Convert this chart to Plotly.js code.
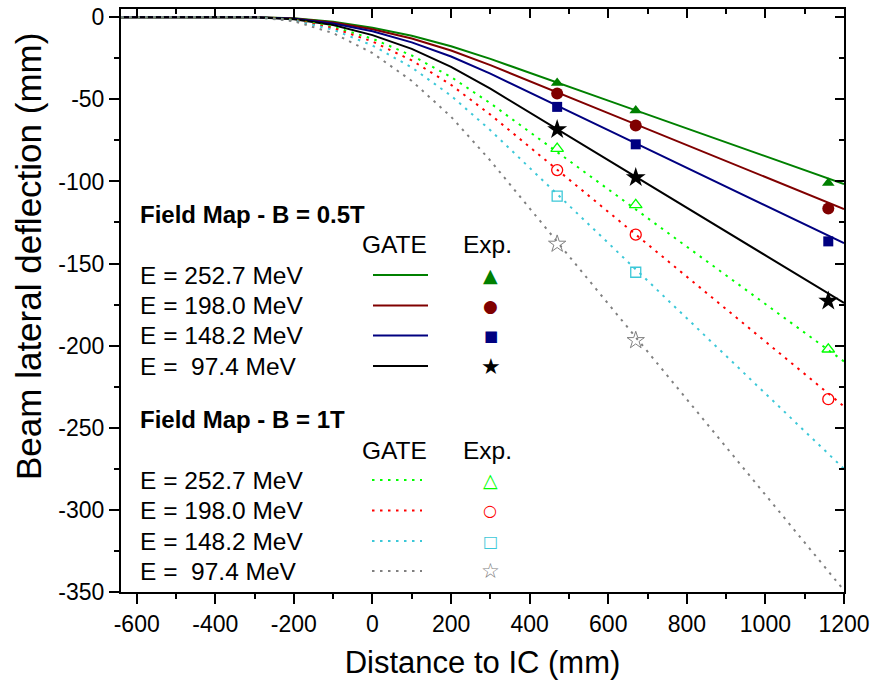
<!DOCTYPE html>
<html><head><meta charset="utf-8">
<script src="https://cdn.plot.ly/plotly-3.0.1.min.js"></script>
<style>html,body{margin:0;padding:0;background:#fff}#chart{width:884px;height:683px}</style>
</head><body><div id="chart"></div>
<script>
// ---- data ----
const xSim = [-640, -300, -200, -100, 0, 100, 200, 300, 600, 900, 1200];
const gate05_2527 = [0, 0, -0.7, -2.8, -6.4, -11.3, -17.7, -25.4, -50.8, -76.2, -101.6];
const gate05_1980 = [0, 0, -0.8, -3.2, -7.3, -13.0, -20.3, -29.2, -58.4, -87.6, -116.8];
const gate05_1482 = [0, 0, -1.0, -3.8, -8.6, -15.3, -23.9, -34.4, -68.8, -103.2, -137.6];
const gate05_974  = [0, 0, -1.2, -4.8, -10.9, -19.3, -30.2, -43.5, -87.0, -130.5, -174.0];
const gate1_2527  = [0, 0, -1.5, -5.8, -13.1, -23.3, -36.4, -52.4, -104.8, -157.2, -209.6];
const gate1_1980  = [0, 0, -1.6, -6.6, -14.8, -26.3, -41.2, -59.3, -118.5, -177.8, -237.0];
const gate1_1482  = [0, 0, -1.9, -7.6, -17.2, -30.6, -47.8, -68.8, -137.5, -206.3, -275.0];
const gate1_974   = [0, 0, -2.4, -9.7, -21.8, -38.8, -60.6, -87.3, -174.5, -261.8, -349.0];

const xExp = [470, 670, 1160];
const exp05_2527 = [-40.0, -56.8, -101.0];
const exp05_1980 = [-46.5, -65.9, -116.5];
const exp05_1482 = [-54.6, -77.4, -136.5];
const exp05_974  = [-68.4, -97.6, -172.8];
const exp1_2527  = [-80.0, -114.3, -202.2];
const exp1_1980  = [-93.1, -132.4, -232.6];
const xExp1_low  = [470, 670];
const exp1_1482  = [-108.9, -155.3];
const exp1_974   = [-138.1, -196.8];

const xTickVals = [-600, -400, -200, 0, 200, 400, 600, 800, 1000, 1200];
const xTickText = ["-600", "-400", "-200", "0", "200", "400", "600", "800", "1000", "1200"];
const yTickVals = [0, -50, -100, -150, -200, -250, -300, -350];
const yTickText = ["0", "-50", "-100", "-150", "-200", "-250", "-300", "-350"];

const energies = ["E = 252.7 MeV", "E = 198.0 MeV", "E = 148.2 MeV", "E =  97.4 MeV"];

// ---- styles ----
const FONT = "Liberation Sans, Arial, sans-serif";
const col05 = ["#008000", "#800000", "#000080", "#000000"];
const col1 = ["#00ff00", "#ff0000", "#3cc8d8", "#808080"];
const dotDash = "2.5px,5.5px";

const gate05 = [gate05_2527, gate05_1980, gate05_1482, gate05_974];
const gate1 = [gate1_2527, gate1_1980, gate1_1482, gate1_974];
const exp05 = [exp05_2527, exp05_1980, exp05_1482, exp05_974];
const exp1 = [exp1_2527, exp1_1980, exp1_1482, exp1_974];
const exp1x = [xExp, xExp, xExp1_low, xExp1_low];
const sym05 = ["triangle-up", "circle", "square", "star"];
const sym1 = ["triangle-up-open", "circle-open", "square-open", "star-open"];
const size05 = [11, 12, 10, 15];
const size1 = [11, 11, 10, 13];

const traces = [];
for (let i = 0; i < 4; i++) {
  traces.push({x: xSim, y: gate05[i], mode: "lines", line: {color: col05[i], width: 2}, showlegend: false, hoverinfo: "skip"});
}
for (let i = 0; i < 4; i++) {
  traces.push({x: xSim, y: gate1[i], mode: "lines", line: {color: col1[i], width: 2, dash: dotDash}, showlegend: false, hoverinfo: "skip"});
}
for (let i = 0; i < 4; i++) {
  traces.push({x: xExp, y: exp05[i], mode: "markers", marker: {symbol: sym05[i], size: size05[i], color: col05[i], line: {width: 0}}, showlegend: false});
}
for (let i = 0; i < 4; i++) {
  traces.push({x: exp1x[i], y: exp1[i], mode: "markers", marker: {symbol: sym1[i], size: size1[i], color: col1[i], line: {width: i === 3 ? 1 : 1.3, color: col1[i]}}, showlegend: false});
}
// empty trace for mirrored inside ticks
traces.push({x: [], y: [], xaxis: "x2", yaxis: "y2", showlegend: false});

// ---- layout ----
const L = 121, R = 844, T = 9, B = 592;
const px = v => (v - L) / (R - L);
const py = v => (B - v) / (B - T);

const annotations = [];
const shapes = [];
function txt(text, x, y, opts) {
  annotations.push(Object.assign({text: text, xref: "paper", yref: "paper", x: px(x), y: py(y),
    xanchor: "left", yanchor: "middle", showarrow: false, font: {family: FONT, size: 24.5, color: "#000"}}, opts || {}));
}
const glyph05 = ["\u25B2", "\u25CF", "\u25A0", "\u2605"];
const glyph1 = ["\u25B3", "\u25CB", "\u25A1", "\u2606"];
const gsize05 = [19, 17, 15, 22];
const gsize1 = [19, 16, 16, 21];

function block(title, yTitle, yHead, rows, lineX0, lineX1, glyphX, colors, glyphs, gsizes, dotted) {
  txt("<b>" + title + "</b>", 138, yTitle, {font: {family: FONT, size: 24, color: "#000"}});
  txt("GATE", 394, yHead, {xanchor: "center"});
  txt("Exp.", 487, yHead, {xanchor: "center"});
  for (let i = 0; i < 4; i++) {
    txt(energies[i].replace(/  /g, " \u00a0"), 138, rows[i]);
    shapes.push({type: "line", xref: "paper", yref: "paper", x0: px(lineX0), x1: px(lineX1), y0: py(rows[i]), y1: py(rows[i]),
      line: {color: colors[i], width: 2, dash: dotted ? dotDash : "solid"}});
    txt(glyphs[i], glyphX, rows[i], {xanchor: "center", font: {family: "DejaVu Sans", size: gsizes[i], color: colors[i]}});
  }
}
block("Field Map - B = 0.5T", 214, 245, [275, 305.5, 335.5, 366], 373, 428, 491, col05, glyph05, gsize05, false);
block("Field Map - B = 1T", 419, 450, [480, 510.5, 541, 571], 372, 422, 490, col1, glyph1, gsize1, true);

// y-axis title as rotated text
annotations.push({text: "Beam lateral deflection (mm)", xref: "paper", yref: "paper", x: px(28), y: py(257),
  xanchor: "center", yanchor: "middle", textangle: -90, showarrow: false, font: {family: FONT, size: 35, color: "#000"}});

const tickFont = {family: FONT, size: 23, color: "#000"};
const layout = {
  width: 884, height: 683,
  margin: {l: L, r: 884 - R, t: T, b: 683 - B},
  paper_bgcolor: "#fff", plot_bgcolor: "#fff",
  font: {family: FONT, color: "#000"},
  showlegend: false,
  xaxis: {range: [-640, 1200], tickvals: xTickVals, ticktext: xTickText, ticks: "outside", ticklen: 10, tickwidth: 2, tickcolor: "#000",
    minor: {dtick: 100, tick0: 0, ticks: "outside", ticklen: 5, tickwidth: 2, tickcolor: "#000", showgrid: false},
    showline: true, linewidth: 2, linecolor: "#000", showgrid: false, zeroline: false, tickfont: tickFont,
    title: {text: "Distance to IC (mm)", font: {family: FONT, size: 31, color: "#000"}, standoff: 16}},
  yaxis: {range: [-350, 5], tickvals: yTickVals, ticktext: yTickText, ticks: "outside", ticklen: 10, tickwidth: 2, tickcolor: "#000",
    minor: {dtick: 25, tick0: 0, ticks: "outside", ticklen: 5, tickwidth: 2, tickcolor: "#000", showgrid: false},
    showline: true, linewidth: 2, linecolor: "#000", showgrid: false, zeroline: false, tickfont: tickFont},
  xaxis2: {overlaying: "x", side: "top", anchor: "y2", range: [-640, 1200], dtick: 200, tick0: 0, ticks: "inside", ticklen: 9, tickwidth: 2, tickcolor: "#000",
    minor: {dtick: 100, tick0: 0, ticks: "inside", ticklen: 5, tickwidth: 2, tickcolor: "#000"},
    showticklabels: false, showline: true, linewidth: 2, linecolor: "#000", showgrid: false, zeroline: false},
  yaxis2: {overlaying: "y", side: "right", anchor: "x2", range: [-350, 5], dtick: 50, tick0: 0, ticks: "inside", ticklen: 9, tickwidth: 2, tickcolor: "#000",
    minor: {dtick: 25, tick0: 0, ticks: "inside", ticklen: 5, tickwidth: 2, tickcolor: "#000"},
    showticklabels: false, showline: true, linewidth: 2, linecolor: "#000", showgrid: false, zeroline: false},
  annotations: annotations,
  shapes: shapes
};
Plotly.newPlot("chart", traces, layout, {staticPlot: true, displayModeBar: false});
</script>
</body></html>
